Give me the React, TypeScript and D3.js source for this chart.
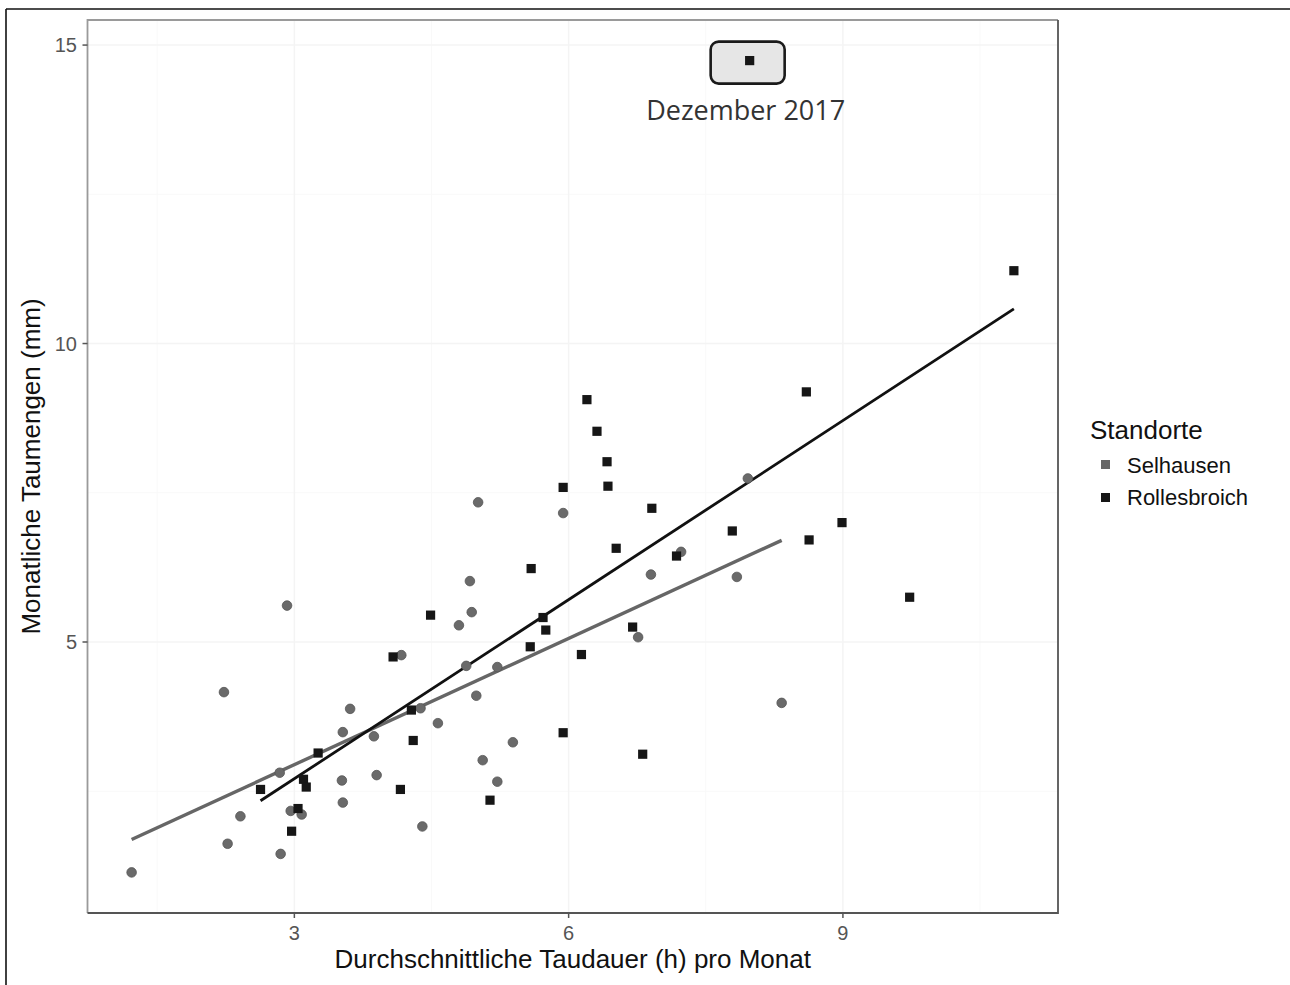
import React, { useEffect, useRef } from 'react';
import * as d3 from 'd3';

// [Taudauer (h), Taumenge (mm)] pro Monat
const selhausen: [number, number][] = [
    [1.22, 1.14], [2.23, 4.16], [2.27, 1.62], [2.41, 2.08], [2.84, 2.81], [2.85, 1.45],
    [2.92, 5.61], [2.96, 2.17], [3.08, 2.11], [3.53, 3.49], [3.61, 3.88], [3.52, 2.68],
    [3.53, 2.31], [3.87, 3.42], [3.90, 2.77], [4.17, 4.78], [4.38, 3.89], [4.40, 1.91],
    [4.57, 3.64], [4.80, 5.28], [4.88, 4.60], [4.92, 6.02], [4.94, 5.50], [4.99, 4.10],
    [5.01, 7.34], [5.06, 3.02], [5.22, 4.58], [5.22, 2.66], [5.39, 3.32], [5.94, 7.16],
    [6.76, 5.08], [6.90, 6.13], [7.23, 6.51], [7.84, 6.09], [7.96, 7.74], [8.33, 3.98],
];

const rollesbroich: [number, number][] = [
    [7.98, 14.74], [10.87, 11.22], [8.60, 9.19], [6.20, 9.06], [6.31, 8.53], [6.42, 8.02],
    [5.94, 7.59], [6.43, 7.61], [6.91, 7.24], [8.99, 7.00], [7.79, 6.86], [8.63, 6.71],
    [6.52, 6.57], [7.18, 6.44], [5.59, 6.23], [9.73, 5.75], [4.49, 5.45], [5.72, 5.41],
    [5.75, 5.20], [6.70, 5.25], [5.58, 4.92], [6.14, 4.79], [4.08, 4.75], [4.28, 3.86],
    [4.30, 3.35], [5.94, 3.48], [6.81, 3.12], [3.26, 3.14], [3.10, 2.70], [3.13, 2.57],
    [2.63, 2.53], [4.16, 2.53], [5.14, 2.35], [3.04, 2.21], [2.97, 1.83],
];

// linear fits as drawn in the picture
const fits = [
    { name: 'Selhausen', intercept: 0.83, slope: 0.705 },
    { name: 'Rollesbroich', intercept: -0.29, slope: 1.0 },
];

const highlight: [number, number] = [7.98, 14.74];
const highlightLabel = 'Dezember 2017';

const xTicks = [3, 6, 9];
const yTicks = [5, 10, 15];
const xMinor = [1.5, 4.5, 7.5, 10.5];
const yMinor = [2.5, 7.5, 12.5];

const legendItems = ['Selhausen', 'Rollesbroich'];

const W = 1290;
const H = 985;
const panel = { left: 87.5, right: 1058, top: 20, bottom: 913 };
const sansFont = '"Liberation Sans", Arial, Helvetica, sans-serif';

const colors: Record<string, string> = { Selhausen: '#666666', Rollesbroich: '#161616' };

function expand(ext: [number, number]): [number, number] {
    const pad = (ext[1] - ext[0]) * 0.05;
    return [ext[0] - pad, ext[1] + pad];
}

export default function App() {
    const ref = useRef<SVGSVGElement>(null);

    useEffect(() => {
        const svg = d3.select(ref.current);
        svg.selectAll('*').remove();

        const all = selhausen.concat(rollesbroich);
        const x = d3.scaleLinear()
            .domain(expand(d3.extent(all, d => d[0]) as [number, number]))
            .range([panel.left, panel.right]);
        const y = d3.scaleLinear()
            .domain(expand(d3.extent(all, d => d[1]) as [number, number]))
            .range([panel.bottom, panel.top]);

        svg.append('rect').attr('width', W).attr('height', H).attr('fill', 'white');

        // outer figure frame (only top and left edge visible)
        svg.append('line').attr('x1', 6).attr('x2', W).attr('y1', 9).attr('y2', 9)
            .attr('stroke', '#111').attr('stroke-width', 1.6);
        svg.append('line').attr('x1', 6).attr('x2', 6).attr('y1', 9).attr('y2', H)
            .attr('stroke', '#111').attr('stroke-width', 1.6);

        // grid
        const grid = svg.append('g');
        grid.selectAll('.xminor').data(xMinor).enter().append('line')
            .attr('x1', d => x(d)).attr('x2', d => x(d))
            .attr('y1', panel.top).attr('y2', panel.bottom)
            .attr('stroke', '#f9f9f9').attr('stroke-width', 1);
        grid.selectAll('.yminor').data(yMinor).enter().append('line')
            .attr('y1', d => y(d)).attr('y2', d => y(d))
            .attr('x1', panel.left).attr('x2', panel.right)
            .attr('stroke', '#f9f9f9').attr('stroke-width', 1);
        grid.selectAll('.xmajor').data(xTicks).enter().append('line')
            .attr('x1', d => x(d)).attr('x2', d => x(d))
            .attr('y1', panel.top).attr('y2', panel.bottom)
            .attr('stroke', '#f4f4f4').attr('stroke-width', 1.5);
        grid.selectAll('.ymajor').data(yTicks).enter().append('line')
            .attr('y1', d => y(d)).attr('y2', d => y(d))
            .attr('x1', panel.left).attr('x2', panel.right)
            .attr('stroke', '#f4f4f4').attr('stroke-width', 1.5);

        // fit lines
        const groups: Record<string, [number, number][]> = { Selhausen: selhausen, Rollesbroich: rollesbroich };
        fits.forEach(f => {
            const ext = d3.extent(groups[f.name], d => d[0]) as [number, number];
            const line = d3.line<number>().x(d => x(d)).y(d => y(f.intercept + f.slope * d));
            svg.append('path')
                .attr('d', line(ext))
                .attr('fill', 'none')
                .attr('stroke', f.name === 'Selhausen' ? '#666' : '#111')
                .attr('stroke-width', f.name === 'Selhausen' ? 3.4 : 2.8);
        });

        // annotation box behind the December point
        svg.append('rect')
            .attr('x', x(highlight[0]) - 39).attr('y', y(highlight[1]) - 19)
            .attr('width', 74).attr('height', 42).attr('rx', 8)
            .attr('fill', '#e6e6e6').attr('stroke', '#1a1a1a').attr('stroke-width', 2.6);
        svg.append('text')
            .attr('x', x(highlight[0]) - 4).attr('y', y(highlight[1]) + 59)
            .attr('text-anchor', 'middle')
            .attr('font-family', '"Open Sans", sans-serif')
            .attr('font-size', 27).attr('fill', '#333')
            .text(highlightLabel);

        // points
        svg.selectAll('.sel').data(selhausen).enter().append('circle')
            .attr('cx', d => x(d[0])).attr('cy', d => y(d[1])).attr('r', 4.8)
            .attr('fill', '#6a6a6a').attr('stroke', '#555').attr('stroke-width', 0.8);
        svg.selectAll('.rol').data(rollesbroich).enter().append('rect')
            .attr('x', d => x(d[0]) - 4.6).attr('y', d => y(d[1]) - 4.6)
            .attr('width', 9.2).attr('height', 9.2)
            .attr('fill', colors.Rollesbroich);

        // panel border
        svg.append('path')
            .attr('d', `M${panel.left},${panel.bottom}V${panel.top}H${panel.right}`)
            .attr('fill', 'none').attr('stroke', '#9a9a9a').attr('stroke-width', 1.8);
        svg.append('path')
            .attr('d', `M${panel.left},${panel.bottom}H${panel.right}V${panel.top}`)
            .attr('fill', 'none').attr('stroke', '#555').attr('stroke-width', 1.8);

        // ticks and labels
        svg.selectAll('.xt').data(xTicks).enter().append('line')
            .attr('x1', d => x(d)).attr('x2', d => x(d))
            .attr('y1', panel.bottom).attr('y2', panel.bottom + 5)
            .attr('stroke', '#555').attr('stroke-width', 1.5);
        svg.selectAll('.xl').data(xTicks).enter().append('text')
            .attr('x', d => x(d)).attr('y', 940)
            .attr('text-anchor', 'middle')
            .attr('font-family', sansFont).attr('font-size', 20).attr('fill', '#555')
            .text(d => d);
        svg.selectAll('.yt').data(yTicks).enter().append('line')
            .attr('y1', d => y(d)).attr('y2', d => y(d))
            .attr('x1', panel.left - 5).attr('x2', panel.left)
            .attr('stroke', '#555').attr('stroke-width', 1.5);
        svg.selectAll('.yl').data(yTicks).enter().append('text')
            .attr('x', 77).attr('y', d => y(d) + 7)
            .attr('text-anchor', 'end')
            .attr('font-family', sansFont).attr('font-size', 20).attr('fill', '#555')
            .text(d => d);

        // axis titles
        svg.append('text')
            .attr('x', (panel.left + panel.right) / 2).attr('y', 968)
            .attr('text-anchor', 'middle')
            .attr('font-family', sansFont).attr('font-size', 26).attr('fill', '#111')
            .text('Durchschnittliche Taudauer (h) pro Monat');
        svg.append('text')
            .attr('transform', `translate(40,${(panel.top + panel.bottom) / 2}) rotate(-90)`)
            .attr('text-anchor', 'middle')
            .attr('font-family', sansFont).attr('font-size', 26).attr('fill', '#111')
            .text('Monatliche Taumengen (mm)');

        // legend
        const legend = svg.append('g').attr('transform', 'translate(1090,0)');
        legend.append('text')
            .attr('x', 0).attr('y', 439)
            .attr('font-family', sansFont).attr('font-size', 26).attr('fill', '#111')
            .text('Standorte');
        legend.selectAll('.lk').data(legendItems).enter().append('rect')
            .attr('x', 11).attr('y', (d, i) => 460 + i * 33)
            .attr('width', 9).attr('height', 9)
            .attr('fill', d => colors[d]);
        legend.selectAll('.ll').data(legendItems).enter().append('text')
            .attr('x', 37).attr('y', (d, i) => 472.5 + i * 32)
            .attr('font-family', sansFont).attr('font-size', 22).attr('fill', '#111')
            .text(d => d);
    }, []);

    return (
        <svg ref={ref} width={W} height={H}
            style={{ position: 'absolute', left: 0, top: 0, display: 'block' }} />
    );
}
